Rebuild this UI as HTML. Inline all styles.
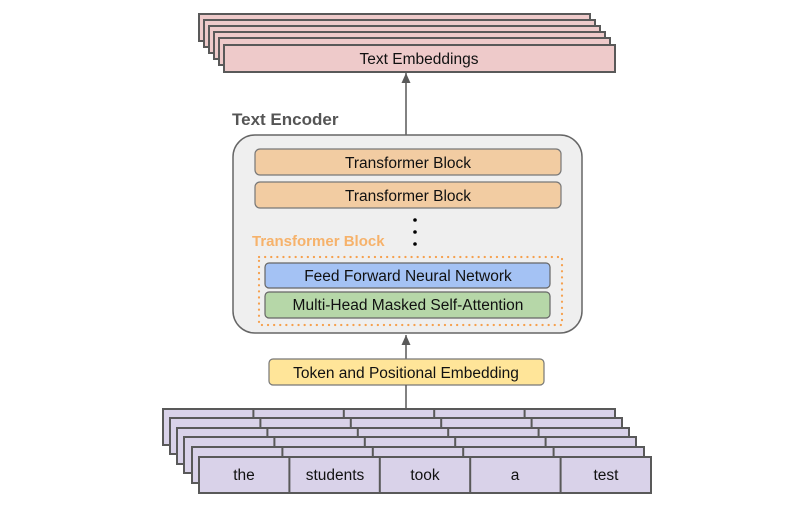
<!DOCTYPE html>
<html><head><style>html,body{margin:0;padding:0;background:#fff}</style></head><body>
<svg width="800" height="511" viewBox="0 0 800 511" xmlns="http://www.w3.org/2000/svg" font-family="Liberation Sans, sans-serif">
<defs><marker id="a" viewBox="0 0 10 10" refX="9" refY="5" markerWidth="7" markerHeight="7" markerUnits="userSpaceOnUse" orient="auto"><path d="M0,0L10,5L0,10z" fill="#595959"/></marker></defs>
<g fill="#eecaca" stroke="#595959" stroke-width="2">
<rect x="199" y="14" width="391" height="27"/>
<rect x="204" y="20" width="391" height="27"/>
<rect x="209" y="26" width="391" height="27"/>
<rect x="214" y="32" width="391" height="27"/>
<rect x="219" y="38" width="391" height="27"/>
<rect x="224" y="45" width="391" height="27"/>
</g>
<text x="419" y="64" font-size="15.5" text-anchor="middle" fill="#111">Text Embeddings</text>
<line x1="406" y1="135" x2="406" y2="73" stroke="#595959" stroke-width="1.5"/>
<path d="M401.5,83L406,73L410.5,83z" fill="#595959"/>
<text x="232" y="125" font-size="17" font-weight="bold" fill="#555">Text Encoder</text>
<rect x="233" y="135" width="349" height="198" rx="22" fill="#efefef" stroke="#666" stroke-width="1.5"/>
<rect x="255" y="149" width="306" height="26" rx="5" fill="#f2cca2" stroke="#777" stroke-width="1.2"/>
<text x="408" y="168" font-size="15.5" text-anchor="middle" fill="#111">Transformer Block</text>
<rect x="255" y="182" width="306" height="26" rx="5" fill="#f2cca2" stroke="#777" stroke-width="1.2"/>
<text x="408" y="201" font-size="15.5" text-anchor="middle" fill="#111">Transformer Block</text>
<circle cx="415" cy="220" r="1.8" fill="#000"/><circle cx="415" cy="232" r="1.8" fill="#000"/><circle cx="415" cy="244" r="1.8" fill="#000"/>
<text x="252" y="246" font-size="15" font-weight="bold" fill="#f6b26b">Transformer Block</text>
<rect x="259" y="257" width="303" height="68" fill="none" stroke="#f6a04d" stroke-width="2.2" stroke-dasharray="0.1 6" stroke-linecap="round"/>
<rect x="265" y="263" width="285" height="25" rx="4" fill="#a4c2f4" stroke="#666" stroke-width="1.2"/>
<text x="408" y="281" font-size="15.5" text-anchor="middle" fill="#111">Feed Forward Neural Network</text>
<rect x="265" y="292" width="285" height="26" rx="4" fill="#b6d7a8" stroke="#666" stroke-width="1.2"/>
<text x="408" y="310" font-size="15.5" text-anchor="middle" fill="#111">Multi-Head Masked Self-Attention</text>
<line x1="406" y1="359" x2="406" y2="335" stroke="#595959" stroke-width="1.5"/>
<path d="M401.5,345L406,335L410.5,345z" fill="#595959"/>
<rect x="269" y="359" width="275" height="26" rx="4" fill="#ffe599" stroke="#777" stroke-width="1.2"/>
<text x="406" y="378" font-size="15.5" text-anchor="middle" fill="#111">Token and Positional Embedding</text>
<line x1="406" y1="385" x2="406" y2="409" stroke="#595959" stroke-width="1.5"/>
<g fill="#d9d2e9" stroke="#595959" stroke-width="2">
<g transform="translate(163,409)"><rect width="452" height="36"/><path d="M90.4,0v36M180.8,0v36M271.2,0v36M361.6,0v36"/></g>
<g transform="translate(170,418)"><rect width="452" height="36"/><path d="M90.4,0v36M180.8,0v36M271.2,0v36M361.6,0v36"/></g>
<g transform="translate(177,428)"><rect width="452" height="36"/><path d="M90.4,0v36M180.8,0v36M271.2,0v36M361.6,0v36"/></g>
<g transform="translate(184,437)"><rect width="452" height="36"/><path d="M90.4,0v36M180.8,0v36M271.2,0v36M361.6,0v36"/></g>
<g transform="translate(192,447)"><rect width="452" height="36"/><path d="M90.4,0v36M180.8,0v36M271.2,0v36M361.6,0v36"/></g>
<g transform="translate(199,457)"><rect width="452" height="36"/><path d="M90.4,0v36M180.8,0v36M271.2,0v36M361.6,0v36"/></g>
</g>
<g font-size="15.5" text-anchor="middle" fill="#111">
<text x="244" y="480">the</text><text x="335" y="480">students</text><text x="425" y="480">took</text><text x="515" y="480">a</text><text x="606" y="480">test</text>
</g>
</svg>
</body></html>
